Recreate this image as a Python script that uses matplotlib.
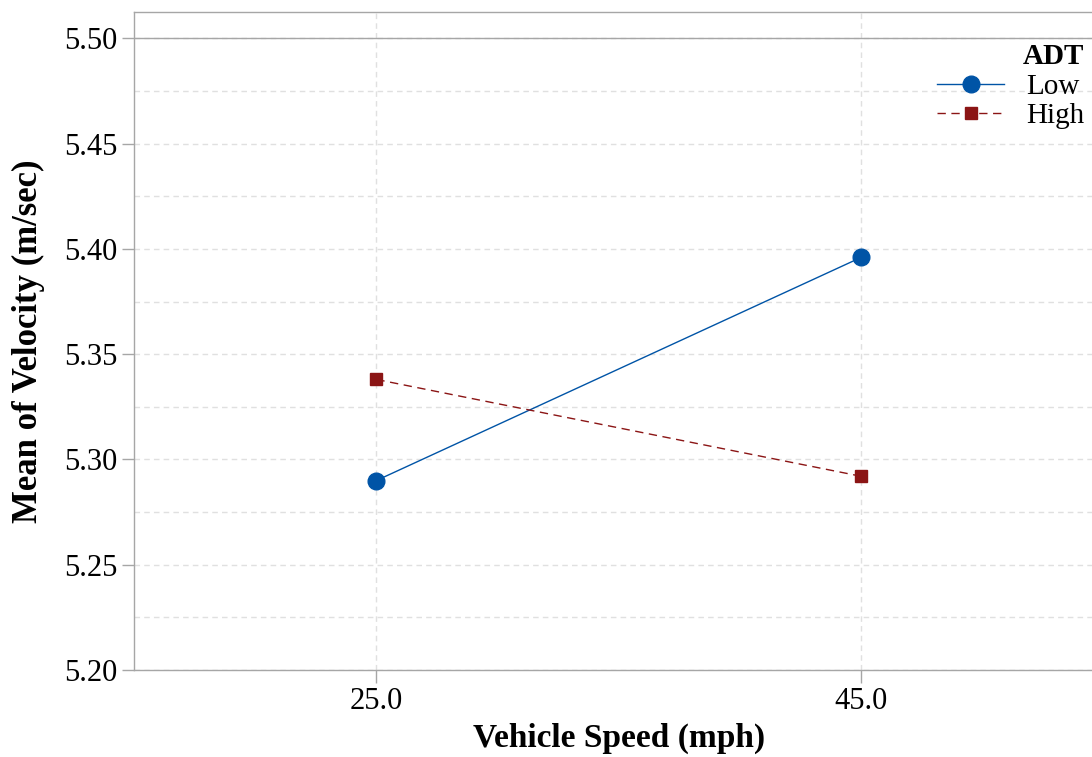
import matplotlib.pyplot as plt
from matplotlib.ticker import MultipleLocator

# valores
velocidades = [25.0, 45.0]
media_low = [5.290, 5.396]
media_high = [5.338, 5.292]
rotulos_x = ['25.0', '45.0']

plt.rcParams['font.family'] = ['Liberation Serif', 'DejaVu Serif']

fig = plt.figure(figsize=(10.92, 7.57), dpi=100)
ax = fig.add_axes([0.1227, 0.1149, 0.888, 0.8692])

cinza = '#a6a6a6'
azul = '#0054a6'
vermelho = '#8b1515'

ax.plot(velocidades, media_low, color=azul, lw=1, marker='o', markersize=12,
        label='Low', zorder=3)
ax.plot(velocidades, media_high, color=vermelho, lw=1, ls=(0, (6, 4)), marker='s',
        markersize=8, label='High', zorder=3)

ax.set_xlim(15, 55)
ax.set_ylim(5.20, 5.5125)
ax.set_xticks(velocidades)
ax.set_xticklabels(rotulos_x)
ax.yaxis.set_major_locator(MultipleLocator(0.05))
ax.yaxis.set_minor_locator(MultipleLocator(0.025))
ax.set_yticks([5.20, 5.25, 5.30, 5.35, 5.40, 5.45, 5.50])
ax.set_yticklabels(['5.20', '5.25', '5.30', '5.35', '5.40', '5.45', '5.50'])

ax.grid(True, which='both', axis='y', color='#e0e0e0', ls=(0, (4, 3)), lw=1)
ax.grid(True, which='major', axis='x', color='#e0e0e0', ls=(0, (4, 3)), lw=1)
ax.axhline(5.50, color=cinza, lw=1, zorder=1)
ax.set_axisbelow(True)

ax.tick_params(axis='both', which='major', direction='out', length=9, width=1,
               color=cinza, labelsize=22, pad=3)
ax.tick_params(axis='y', which='minor', length=0)
for lado in ['left', 'bottom', 'top']:
    ax.spines[lado].set_color(cinza)
    ax.spines[lado].set_linewidth(1)
ax.spines['right'].set_visible(False)

ax.set_xlabel('Vehicle Speed (mph)', fontsize=24, fontweight='bold', labelpad=5)
ax.set_ylabel('Mean of Velocity (m/sec)', fontsize=25, fontweight='bold', labelpad=14)

leg = ax.legend(title='ADT', loc='upper right', bbox_to_anchor=(0.992, 0.97),
                frameon=False, fontsize=21, title_fontproperties={'weight': 'bold', 'size': 21},
                handlelength=2.3, handletextpad=0.75, borderaxespad=0, labelspacing=0.1,
                alignment='right')

fig.savefig('out.png', dpi=100)
